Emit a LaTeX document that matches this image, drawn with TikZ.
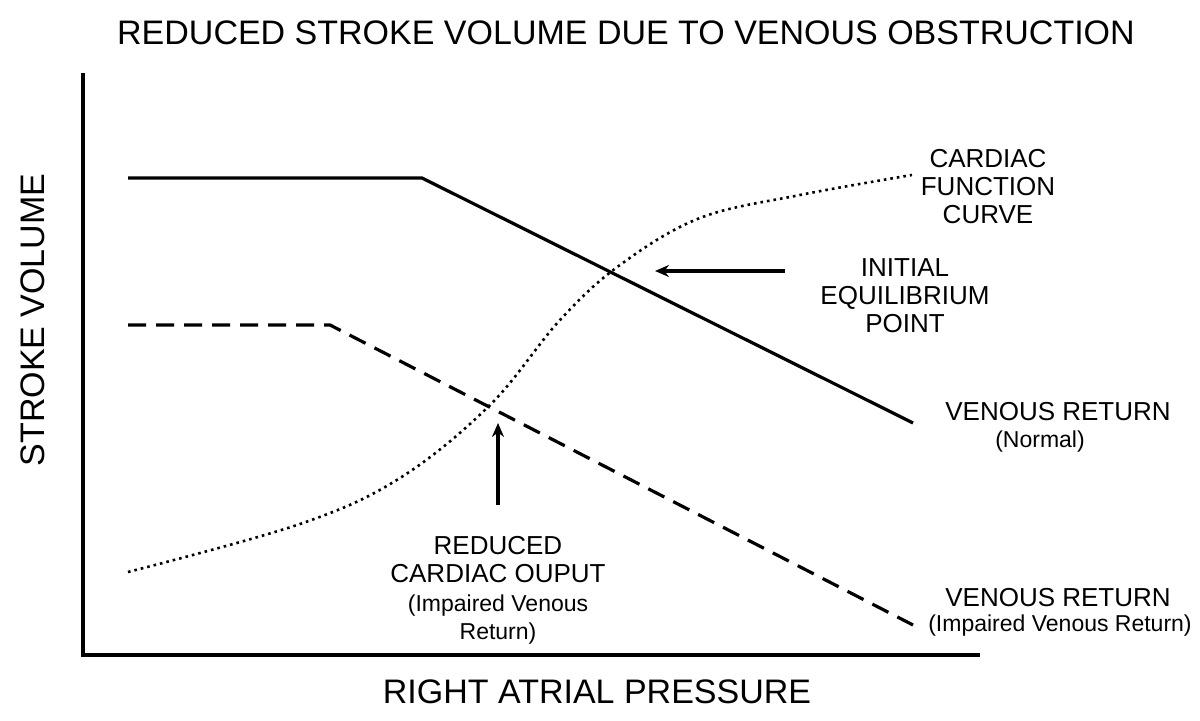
\documentclass[tikz,border=0pt]{standalone}
\usepackage{fontspec}
\setmainfont{Liberation Sans}
\usetikzlibrary{arrows.meta}
\begin{document}
\begin{tikzpicture}[x=0.5pt,y=-0.5pt,
 lab/.style={align=center,font=\fontsize{13}{14}\selectfont,inner sep=0},
 small/.style={align=center,font=\fontsize{11.5}{14}\selectfont,inner sep=0},
 big/.style={font=\fontsize{17}{18}\selectfont,inner sep=0},
 arr/.style={line width=1.6pt,-{Stealth[length=7pt,width=6pt]}}]
\useasboundingbox (0,0) rectangle (1200,721);
\node[big] (title) at (626,33) {REDUCED STROKE VOLUME DUE TO VENOUS OBSTRUCTION};
\draw[line width=1.6pt] (83,73) -- (83,655) -- (980,655);
\node[big,rotate=90] (yl) at (33,320) {STROKE VOLUME};
\node[big] (xl) at (597,692) {RIGHT ATRIAL PRESSURE};
\draw[line width=1.6pt] (128,178) -- (422,178) -- (913,423);
\draw[line width=1.6pt,dash pattern=on 9pt off 5pt] (128,325) -- (330,325) -- (913,625);
\draw[line width=1.3pt,dotted] plot[smooth,tension=0.6] coordinates{(128,572) (300,524) (400,478) (490,405) (560,320) (620,265) (700,218) (800,195) (912,175)};
\coordinate (a1) at (785,271); \coordinate (a2) at (655,271);
\draw[arr] (a1) -- (a2);
\coordinate (b1) at (498,505); \coordinate (b2) at (498,423);
\draw[arr] (b1) -- (b2);
\node[lab] (cf) at (988,187) {CARDIAC\\FUNCTION\\CURVE};
\node[lab] (iep) at (905,296) {INITIAL\\EQUILIBRIUM\\POINT};
\node[lab] (vr1) at (1058,412) {VENOUS RETURN};
\node[small] (vr1s) at (1040,442) {(Normal)};
\node[lab] (rco) at (498,560) {REDUCED\\CARDIAC OUPUT};
\node[small] (rcos) at (498,620) {(Impaired Venous\\Return)};
\node[lab] (vr2) at (1058,598) {VENOUS RETURN};
\node[small] (vr2s) at (1060,626) {(Impaired Venous Return)};
\end{tikzpicture}
\end{document}
